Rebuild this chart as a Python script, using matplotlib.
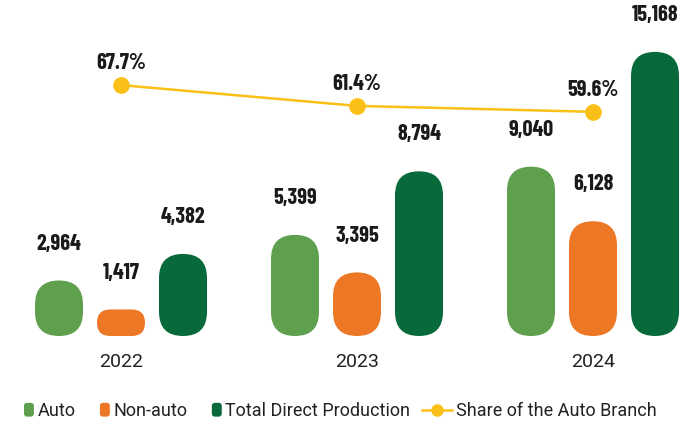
#!/usr/bin/env python3
"""Direct production by branch, 2022-2024, with share of the auto branch"""

import matplotlib
matplotlib.use('Agg')
import matplotlib.pyplot as plt
import numpy as np
from matplotlib.patches import FancyBboxPatch
from matplotlib.lines import Line2D
from matplotlib.legend_handler import HandlerPatch

years = ['2022', '2023', '2024']
series_names = ['Auto', 'Non-auto', 'Total Direct Production']
auto = [2964, 5399, 9040]
non_auto = [1417, 3395, 6128]
total = [4382, 8794, 15168]
share = [67.7, 61.4, 59.6]
share_name = 'Share of the Auto Branch'

colors = ['#5EA04E', '#EC7825', '#086A3A']
line_color = '#FBC017'

bold_font = ['Barlow Condensed', 'Roboto Condensed', 'Oswald', 'DejaVu Sans']
text_font = ['Roboto', 'DejaVu Sans']

W, H = 684, 429
fig = plt.figure(figsize=(W / 100, H / 100), dpi=100)
ax = fig.add_axes([0, 93 / H, 1, 336 / H])
ax.set_xlim(-121 / 236, (W - 121) / 236)
ax.set_ylim(0, 17940)
ax.axis('off')

bar_w = 48 / 236
step = 62 / 236
x = np.arange(len(years))

# pixels per data unit, used to keep the rounded ends circular
p0 = ax.transData.transform((0, 0))
p1 = ax.transData.transform((1, 1))
px_x = p1[0] - p0[0]
px_y = p1[1] - p0[1]


def rounded_bar(xc, h, color):
    w_px = bar_w * px_x
    h_px = h * px_y
    r_px = min(w_px, h_px) / 2
    patch = FancyBboxPatch((xc - bar_w / 2, 0), bar_w, h,
                           boxstyle=f'round,pad=0,rounding_size={r_px / px_x}',
                           mutation_aspect=px_x / px_y,
                           facecolor=color, edgecolor='none')
    ax.add_patch(patch)


for k, vals in enumerate([auto, non_auto, total]):
    for i, v in enumerate(vals):
        xc = x[i] + (k - 1) * step
        rounded_bar(xc, v, colors[k])
        ax.annotate(f'{v:,}', (xc, v), xytext=(0, 26.5), textcoords='offset points',
                    ha='center', va='center', fontsize=16, fontweight='bold',
                    family=bold_font, color='#1a1a1a')

for i, yr in enumerate(years):
    ax.annotate(yr, (x[i], 0), xytext=(0, -19), textcoords='offset points',
                ha='center', va='center', fontsize=14, family=text_font,
                color='#222222')

ax2 = ax.twinx()
ax2.set_ylim(-8.36, 93.5)
ax2.axis('off')
ax2.plot(x, share, color=line_color, lw=1.8, marker='o', markersize=11, zorder=5)
for i, s in enumerate(share):
    ax2.annotate(f'{s}%', (x[i], s), xytext=(0, 16), textcoords='offset points',
                 ha='center', va='center', fontsize=16, fontweight='bold',
                 family=bold_font, color='#1a1a1a')


class HandlerRounded(HandlerPatch):
    def create_artists(self, legend, orig_handle, xdescent, ydescent,
                       width, height, fontsize, trans):
        p = FancyBboxPatch((-xdescent, -ydescent), width, height,
                           boxstyle=f'round,pad=0,rounding_size={width * 0.3}',
                           facecolor=orig_handle.get_facecolor(), edgecolor='none',
                           transform=trans)
        return [p]


handles = [FancyBboxPatch((0, 0), 1, 1, facecolor=c) for c in colors]
leg1 = fig.legend(handles, series_names, loc='center left',
                  bbox_to_anchor=(24 / W, 18 / H), ncol=3, frameon=False,
                  handler_map={FancyBboxPatch: HandlerRounded()},
                  handlelength=0.55, handleheight=0.8, handletextpad=0.2,
                  columnspacing=1.35, borderpad=0, borderaxespad=0,
                  prop={'family': text_font, 'size': 13})
for t in leg1.get_texts():
    t.set_color('#222222')

line_handle = Line2D([], [], color=line_color, lw=1.8, marker='o', markersize=8)
leg2 = fig.legend([line_handle], [share_name], loc='center left',
                  bbox_to_anchor=(422 / W, 18 / H), frameon=False,
                  handlelength=1.65, handletextpad=0.25, borderpad=0,
                  borderaxespad=0, prop={'family': text_font, 'size': 13})
for t in leg2.get_texts():
    t.set_color('#222222')

plt.savefig('out.png', dpi=100)
plt.close()
